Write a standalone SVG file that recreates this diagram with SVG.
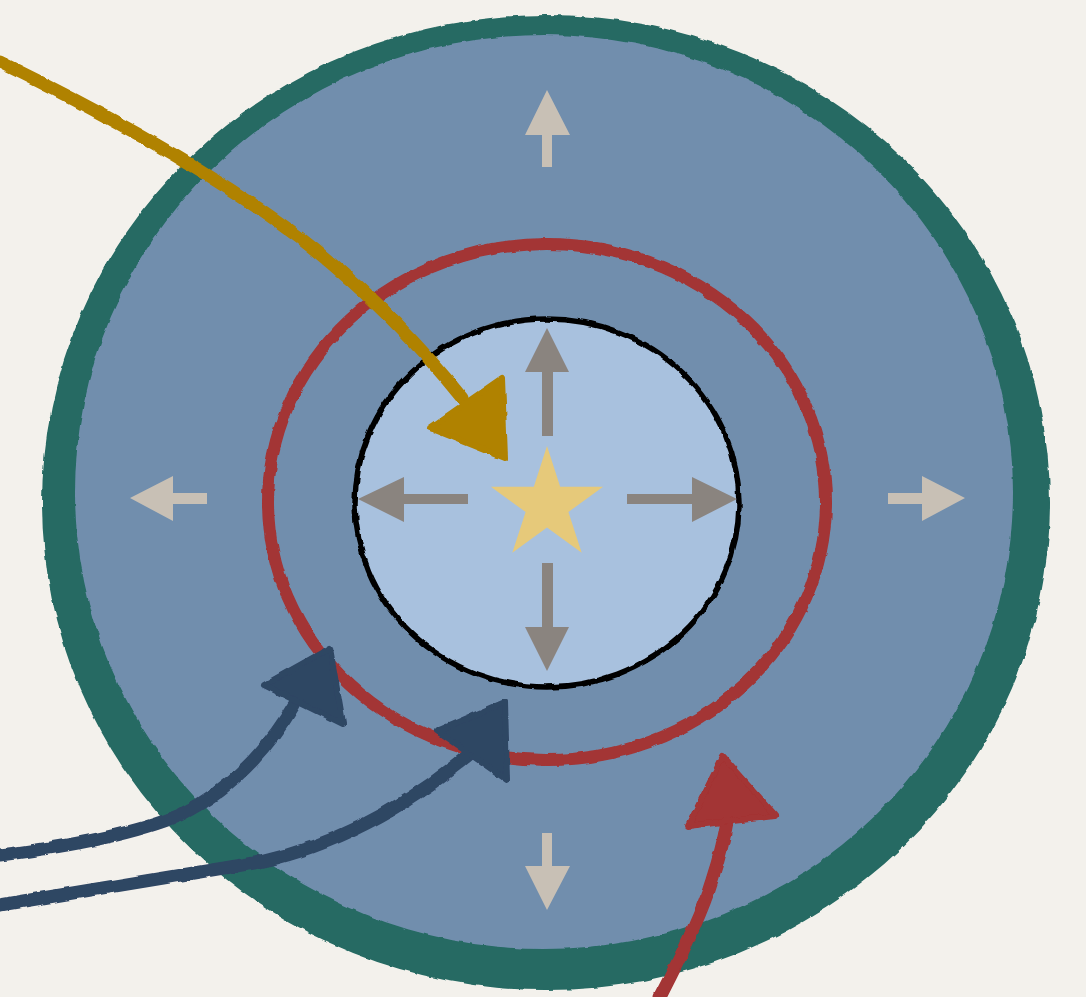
<svg xmlns="http://www.w3.org/2000/svg" width="1086" height="997" viewBox="0 0 1086 997">
<defs>
<style>
.bg{fill:#f3f1ec}
.zone{fill:#718ead}
.ring{fill:#256a63;fill-rule:evenodd}
.red{fill:none;stroke:#a33434;stroke-width:12}
.core{fill:#a8c1de;stroke:#000;stroke-width:5.5}
.ia{fill:#8a847f}
.oa{fill:#c8c0b5}
.star{fill:#e6c97a}
.gold{stroke:#b08200;fill:none;stroke-width:13;stroke-linecap:round}
.goldh{fill:#b08200;stroke:#b08200;stroke-width:6;stroke-linejoin:round}
.navy{stroke:#2f4664;fill:none;stroke-width:13;stroke-linecap:round}
.navyh{fill:#2f4664;stroke:#2f4664;stroke-width:6;stroke-linejoin:round}
.redc{stroke:#a33434;fill:none;stroke-width:13;stroke-linecap:round}
.redh{fill:#a33434;stroke:#a33434;stroke-width:6;stroke-linejoin:round}
</style>
<filter id="rough" x="-10%" y="-10%" width="120%" height="120%">
<feTurbulence type="fractalNoise" baseFrequency="0.08" numOctaves="2" seed="3" result="n"/>
<feDisplacementMap in="SourceGraphic" in2="n" scale="4" xChannelSelector="R" yChannelSelector="G"/>
</filter>
</defs>
<rect class="bg" x="0" y="0" width="1086" height="997"/>
<g id="outer-zone">
<ellipse class="zone" cx="545" cy="500" rx="490" ry="475"/>
<path class="ring" filter="url(#rough)" d="M42,502.5 A504,487.5 0 1 0 1050,502.5 A504,487.5 0 1 0 42,502.5 Z M75,492 A469,457 0 1 0 1013,492 A469,457 0 1 0 75,492 Z"/>
</g>
<g id="outer-arrows">
<polygon class="oa" points="547,90 570,135 552,135 552,167 542,167 542,135 525,135"/>
<polygon class="oa" points="130,498 173,476 173,493 207,493 207,504 173,504 173,521"/>
<polygon class="oa" points="965,498 922,476 922,493 888,493 888,504 922,504 922,521"/>
<polygon class="oa" points="547,910 570,866 552,866 552,833 542,833 542,866 525,866"/>
</g>
<g id="boundary">
<ellipse class="red" cx="547" cy="502" rx="279" ry="258" filter="url(#rough)"/>
</g>
<g id="core">
<ellipse class="core" cx="547" cy="503" rx="192" ry="184" filter="url(#rough)"/>
</g>
<g id="inner-arrows">
<polygon class="ia" points="547,328 569,372 553,372 553,436 542,436 542,372 525,372"/>
<polygon class="ia" points="358,499 404,477 404,494 468,494 468,504 404,504 404,522"/>
<polygon class="ia" points="737,499 692,477 692,494 627,494 627,504 692,504 692,522"/>
<polygon class="ia" points="547,671 569,627 553,627 553,563 542,563 542,627 525,627"/>
</g>
<g id="star">
<polygon class="star" points="547,446 560.2,486.8 603.1,486.8 568.4,512 581.7,552.8 547,527.6 512.3,552.8 525.6,512 490.9,486.8 533.8,486.8"/>
</g>
<g id="connectors" filter="url(#rough)">
<path class="gold" d="M0,62 Q190,155 300,238 Q390,308 462,398"/>
<polygon class="goldh" points="430,428 502,378 505,458"/>
<path class="navy" d="M0,855 Q120,840 180,815 Q250,780 294,705"/>
<polygon class="navyh" points="264,685 330,648 343,724"/>
<path class="navy" d="M0,905 Q150,880 260,862 Q370,838 472,752"/>
<polygon class="navyh" points="437,731 505,702 507,780"/>
<path class="redc" d="M660,997 Q700,920 712,880 Q722,850 727,822"/>
<polygon class="redh" points="723,756 776,816 688,826"/>
</g>
</svg>
